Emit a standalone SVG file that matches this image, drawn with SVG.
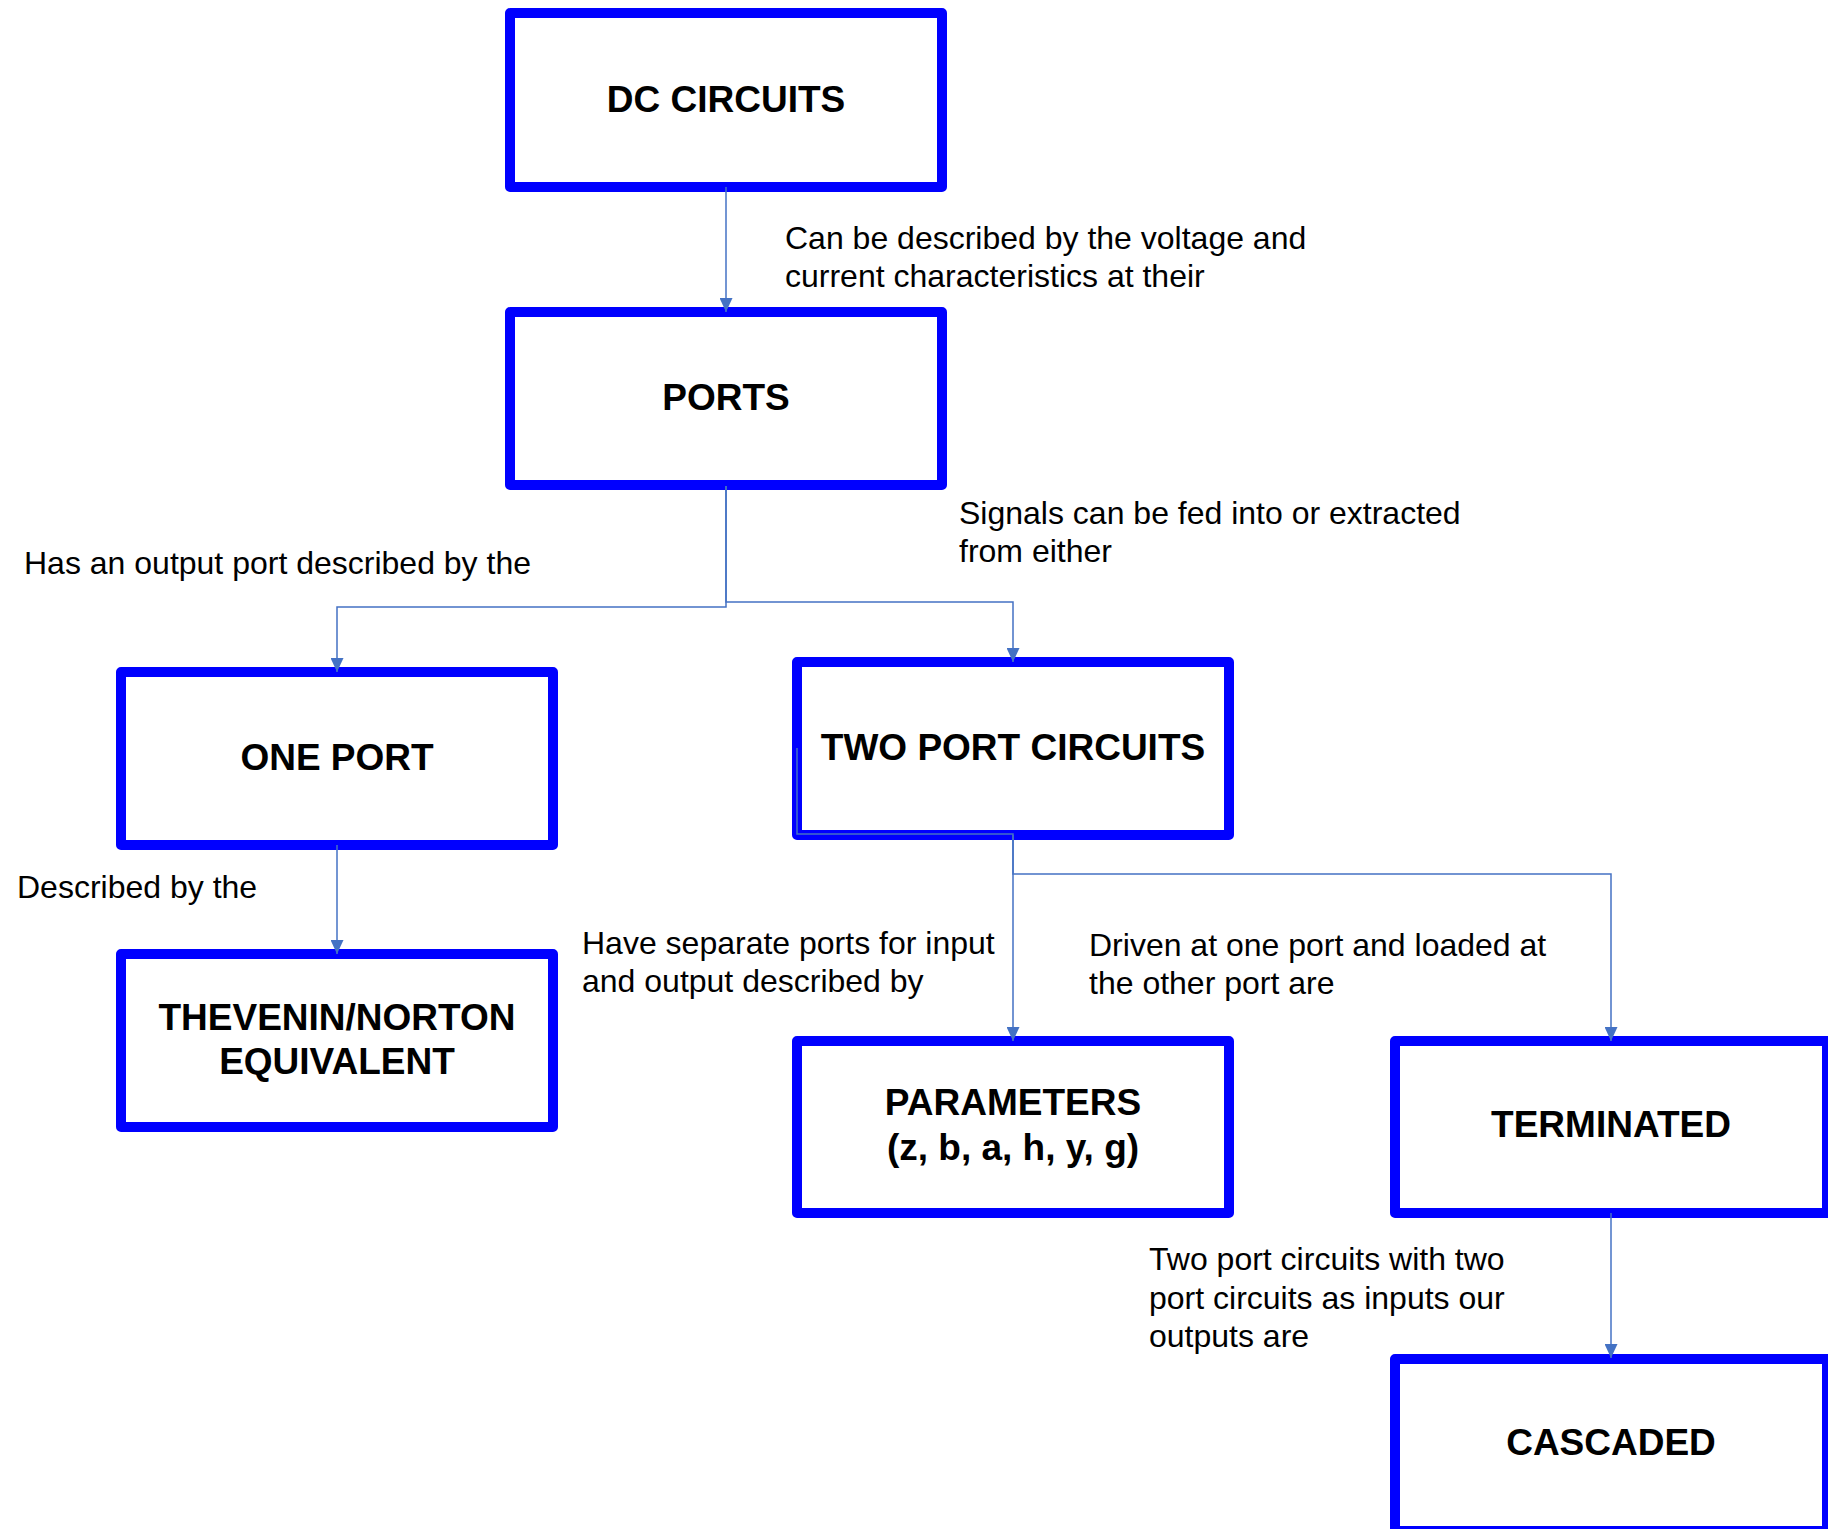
<svg xmlns="http://www.w3.org/2000/svg" width="1828" height="1529" viewBox="0 0 1828 1529">
<style>
.box{fill:#fff;stroke:#0000ff;stroke-width:10;stroke-linejoin:round}
.t{font-family:"Liberation Sans",Arial,sans-serif;font-weight:bold;font-size:37px;fill:#000;text-anchor:middle}
.l{font-family:"Liberation Sans",Arial,sans-serif;font-size:32px;fill:#000}
.c{fill:none;stroke:#4472c4;stroke-width:1.5}
</style>
<defs>
<marker id="ah" viewBox="0 0 14 13" markerUnits="userSpaceOnUse" markerWidth="14" markerHeight="13" refX="14" refY="6.5" orient="auto">
<path d="M0,0 L14,6.5 L0,13 z" fill="#4472c4"/>
</marker>
</defs>
<rect width="1828" height="1529" fill="#fff"/>
<g id="n-dc"><rect class="box" x="510" y="13" width="432" height="174"/><text class="t" x="726" y="112">DC CIRCUITS</text></g>
<g id="n-ports"><rect class="box" x="510" y="312" width="432" height="173"/><text class="t" x="726" y="410">PORTS</text></g>
<g id="n-oneport"><rect class="box" x="121" y="672" width="432" height="173"/><text class="t" x="337" y="770">ONE PORT</text></g>
<g id="n-thevenin"><rect class="box" x="121" y="954" width="432" height="173"/><text class="t" x="337" y="1030">THEVENIN/NORTON</text><text class="t" x="337" y="1074">EQUIVALENT</text></g>
<g id="n-twoport"><rect class="box" x="797" y="662" width="432" height="173"/><text class="t" x="1013" y="760">TWO PORT CIRCUITS</text></g>
<g id="n-params"><rect class="box" x="797" y="1041" width="432" height="172"/><text class="t" x="1013" y="1115">PARAMETERS</text><text class="t" x="1013" y="1160">(z, b, a, h, y, g)</text></g>
<g id="n-terminated"><rect class="box" x="1395" y="1041" width="432" height="172"/><text class="t" x="1611" y="1137">TERMINATED</text></g>
<g id="n-cascaded"><rect class="box" x="1395" y="1359" width="432" height="172"/><text class="t" x="1611" y="1455">CASCADED</text></g>
<g id="connectors">
<path class="c" d="M726,187 V312" marker-end="url(#ah)"/>
<path class="c" d="M726,486 V607 H337 V672" marker-end="url(#ah)"/>
<path class="c" d="M726,486 V602 H1013 V662" marker-end="url(#ah)"/>
<path class="c" d="M337,845 V954" marker-end="url(#ah)"/>
<path class="c" d="M797,748 V834 H1013 V1041" marker-end="url(#ah)"/>
<path class="c" d="M1013,835 V874 H1611 V1041" marker-end="url(#ah)"/>
<path class="c" d="M1611,1213 V1358" marker-end="url(#ah)"/>
</g>
<g id="labels">
<text class="l" x="785" y="249">Can be described by the voltage and</text>
<text class="l" x="785" y="287">current characteristics at their</text>
<text class="l" x="959" y="524">Signals can be fed into or extracted</text>
<text class="l" x="959" y="562">from either</text>
<text class="l" x="24" y="574">Has an output port described by the</text>
<text class="l" x="17" y="898">Described by the</text>
<text class="l" x="582" y="954">Have separate ports for input</text>
<text class="l" x="582" y="992">and output described by</text>
<text class="l" x="1089" y="956">Driven at one port and loaded at</text>
<text class="l" x="1089" y="994">the other port are</text>
<text class="l" x="1149" y="1270">Two port circuits with two</text>
<text class="l" x="1149" y="1309">port circuits as inputs our</text>
<text class="l" x="1149" y="1347">outputs are</text>
</g>
</svg>
